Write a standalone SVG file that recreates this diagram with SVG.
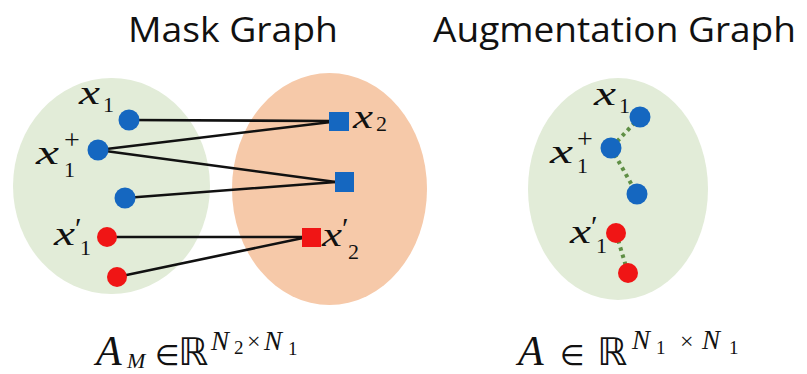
<svg xmlns="http://www.w3.org/2000/svg" width="807" height="374" viewBox="0 0 807 374">
<style>
.title{font-family:"Open Sans","Liberation Sans",sans-serif;font-size:34px;fill:#111}
.mx{font-family:'Liberation Serif',serif;font-style:italic;font-size:34px;fill:#111}
.mi{font-family:'Liberation Serif',serif;font-style:italic;fill:#111}
.n{font-family:'Liberation Serif',serif;fill:#111}
.sym{font-family:'DejaVu Sans',sans-serif;fill:#111}
.s{font-size:22px;font-style:normal}
.pr{font-size:30px;font-style:normal}
.pl{font-size:28px;font-style:normal}
.blue{fill:#1567c0}
.red{fill:#f01515}
.edge{stroke:#111;stroke-width:2.6;fill:none;stroke-linecap:round}
.dot{stroke:#5f8f45;stroke-width:4;stroke-dasharray:3.5 4;fill:none}
.green{fill:#e2ecd8}
.orange{fill:#f6c9a9}
</style>
<rect width="807" height="374" fill="#ffffff"/>
<g id="titles">
<text class="title" x="128" y="42" textLength="210" lengthAdjust="spacingAndGlyphs">Mask Graph</text>
<text class="title" x="433" y="42" textLength="363" lengthAdjust="spacingAndGlyphs">Augmentation Graph</text>
</g>
<g id="regions">
<ellipse class="green" cx="111.5" cy="186" rx="98.5" ry="108"/>
<ellipse class="orange" cx="329.5" cy="189" rx="97.5" ry="116"/>
<ellipse class="green" cx="618" cy="189" rx="90" ry="111"/>
</g>
<g id="connectors">
<line class="edge" x1="129" y1="120" x2="331" y2="121"/>
<line class="edge" x1="98" y1="150" x2="331" y2="122"/>
<line class="edge" x1="98" y1="150" x2="336" y2="182"/>
<line class="edge" x1="125" y1="198" x2="336" y2="182"/>
<line class="edge" x1="107" y1="237" x2="303" y2="237"/>
<line class="edge" x1="117" y1="277" x2="303" y2="238"/>
<line class="dot" x1="640" y1="117" x2="611" y2="148"/>
<line class="dot" x1="611" y1="148" x2="637" y2="194"/>
<line class="dot" x1="616" y1="233" x2="628" y2="273"/>
</g>
<g id="m_x1">
<circle class="blue" cx="129" cy="120" r="10.5"/>
<text class="mx" x="79" y="104"><tspan textLength="21" lengthAdjust="spacingAndGlyphs">x</tspan><tspan class="s" x="103" y="112">1</tspan></text>
</g>
<g id="m_x1plus">
<circle class="blue" cx="98" cy="150" r="10.5"/>
<text class="mx" x="36" y="164"><tspan textLength="23" lengthAdjust="spacingAndGlyphs">x</tspan><tspan class="pl" x="64" y="149">+</tspan><tspan class="s" x="64" y="177">1</tspan></text>
</g>
<g id="m_x1b">
<circle class="blue" cx="125" cy="198" r="10.5"/>
</g>
<g id="m_x1prime">
<circle class="red" cx="107" cy="237" r="10"/>
<text class="mx" x="54" y="245"><tspan textLength="21" lengthAdjust="spacingAndGlyphs">x</tspan><tspan class="pr" x="75" y="238">′</tspan><tspan class="s" x="80" y="255">1</tspan></text>
</g>
<g id="m_x1primeb">
<circle class="red" cx="117" cy="277" r="10"/>
</g>
<g id="m_x2">
<rect class="blue" x="329" y="112" width="20" height="19"/>
<text class="mx" x="353" y="128"><tspan textLength="20" lengthAdjust="spacingAndGlyphs">x</tspan><tspan class="s" x="376" y="131">2</tspan></text>
</g>
<g id="m_x2b">
<rect class="blue" x="335" y="172" width="19" height="20"/>
</g>
<g id="m_x2prime">
<rect class="red" x="302" y="228" width="19" height="19"/>
<text class="mx" x="322" y="246"><tspan textLength="20" lengthAdjust="spacingAndGlyphs">x</tspan><tspan class="pr" x="342" y="238" font-size="26">′</tspan><tspan class="s" x="348" y="259">2</tspan></text>
</g>
<g id="a_x1">
<circle class="blue" cx="640" cy="117" r="10.5"/>
<text class="mx" x="594" y="105"><tspan textLength="22" lengthAdjust="spacingAndGlyphs">x</tspan><tspan class="s" x="619" y="113">1</tspan></text>
</g>
<g id="a_x1plus">
<circle class="blue" cx="611" cy="148" r="10.5"/>
<text class="mx" x="550" y="163"><tspan textLength="23" lengthAdjust="spacingAndGlyphs">x</tspan><tspan class="pl" x="577" y="148">+</tspan><tspan class="s" x="577" y="173">1</tspan></text>
</g>
<g id="a_x1b">
<circle class="blue" cx="637" cy="194" r="10.5"/>
</g>
<g id="a_x1prime">
<circle class="red" cx="616" cy="233" r="10"/>
<text class="mx" x="570" y="243"><tspan textLength="21" lengthAdjust="spacingAndGlyphs">x</tspan><tspan class="pr" x="591" y="236">′</tspan><tspan class="s" x="596" y="253">1</tspan></text>
</g>
<g id="a_x1primeb">
<circle class="red" cx="628" cy="273" r="10"/>
</g>
<g id="formula_mask">
<text class="mi" x="96" y="365" font-size="42">A</text>
<text class="mi" x="127" y="368" font-size="22">M</text>
<text class="sym" x="155" y="365" font-size="28">∈</text>
<text class="sym" x="178" y="365" font-size="38">ℝ</text>
<text class="mi" x="211" y="350" font-size="27">N</text>
<text class="n" x="234" y="354" font-size="19">2</text>
<text class="n" x="247" y="349" font-size="24">×</text>
<text class="mi" x="264" y="350" font-size="27">N</text>
<text class="n" x="288" y="355" font-size="19">1</text>
</g>
<g id="formula_aug">
<text class="mi" x="518" y="365" font-size="42">A</text>
<text class="sym" x="560" y="365" font-size="28">∈</text>
<text class="sym" x="597" y="365" font-size="38">ℝ</text>
<text class="mi" x="632" y="349" font-size="27">N</text>
<text class="n" x="656" y="354" font-size="19">1</text>
<text class="n" x="680" y="349" font-size="24">×</text>
<text class="mi" x="702" y="349" font-size="27">N</text>
<text class="n" x="729" y="354" font-size="19">1</text>
</g>
</svg>
